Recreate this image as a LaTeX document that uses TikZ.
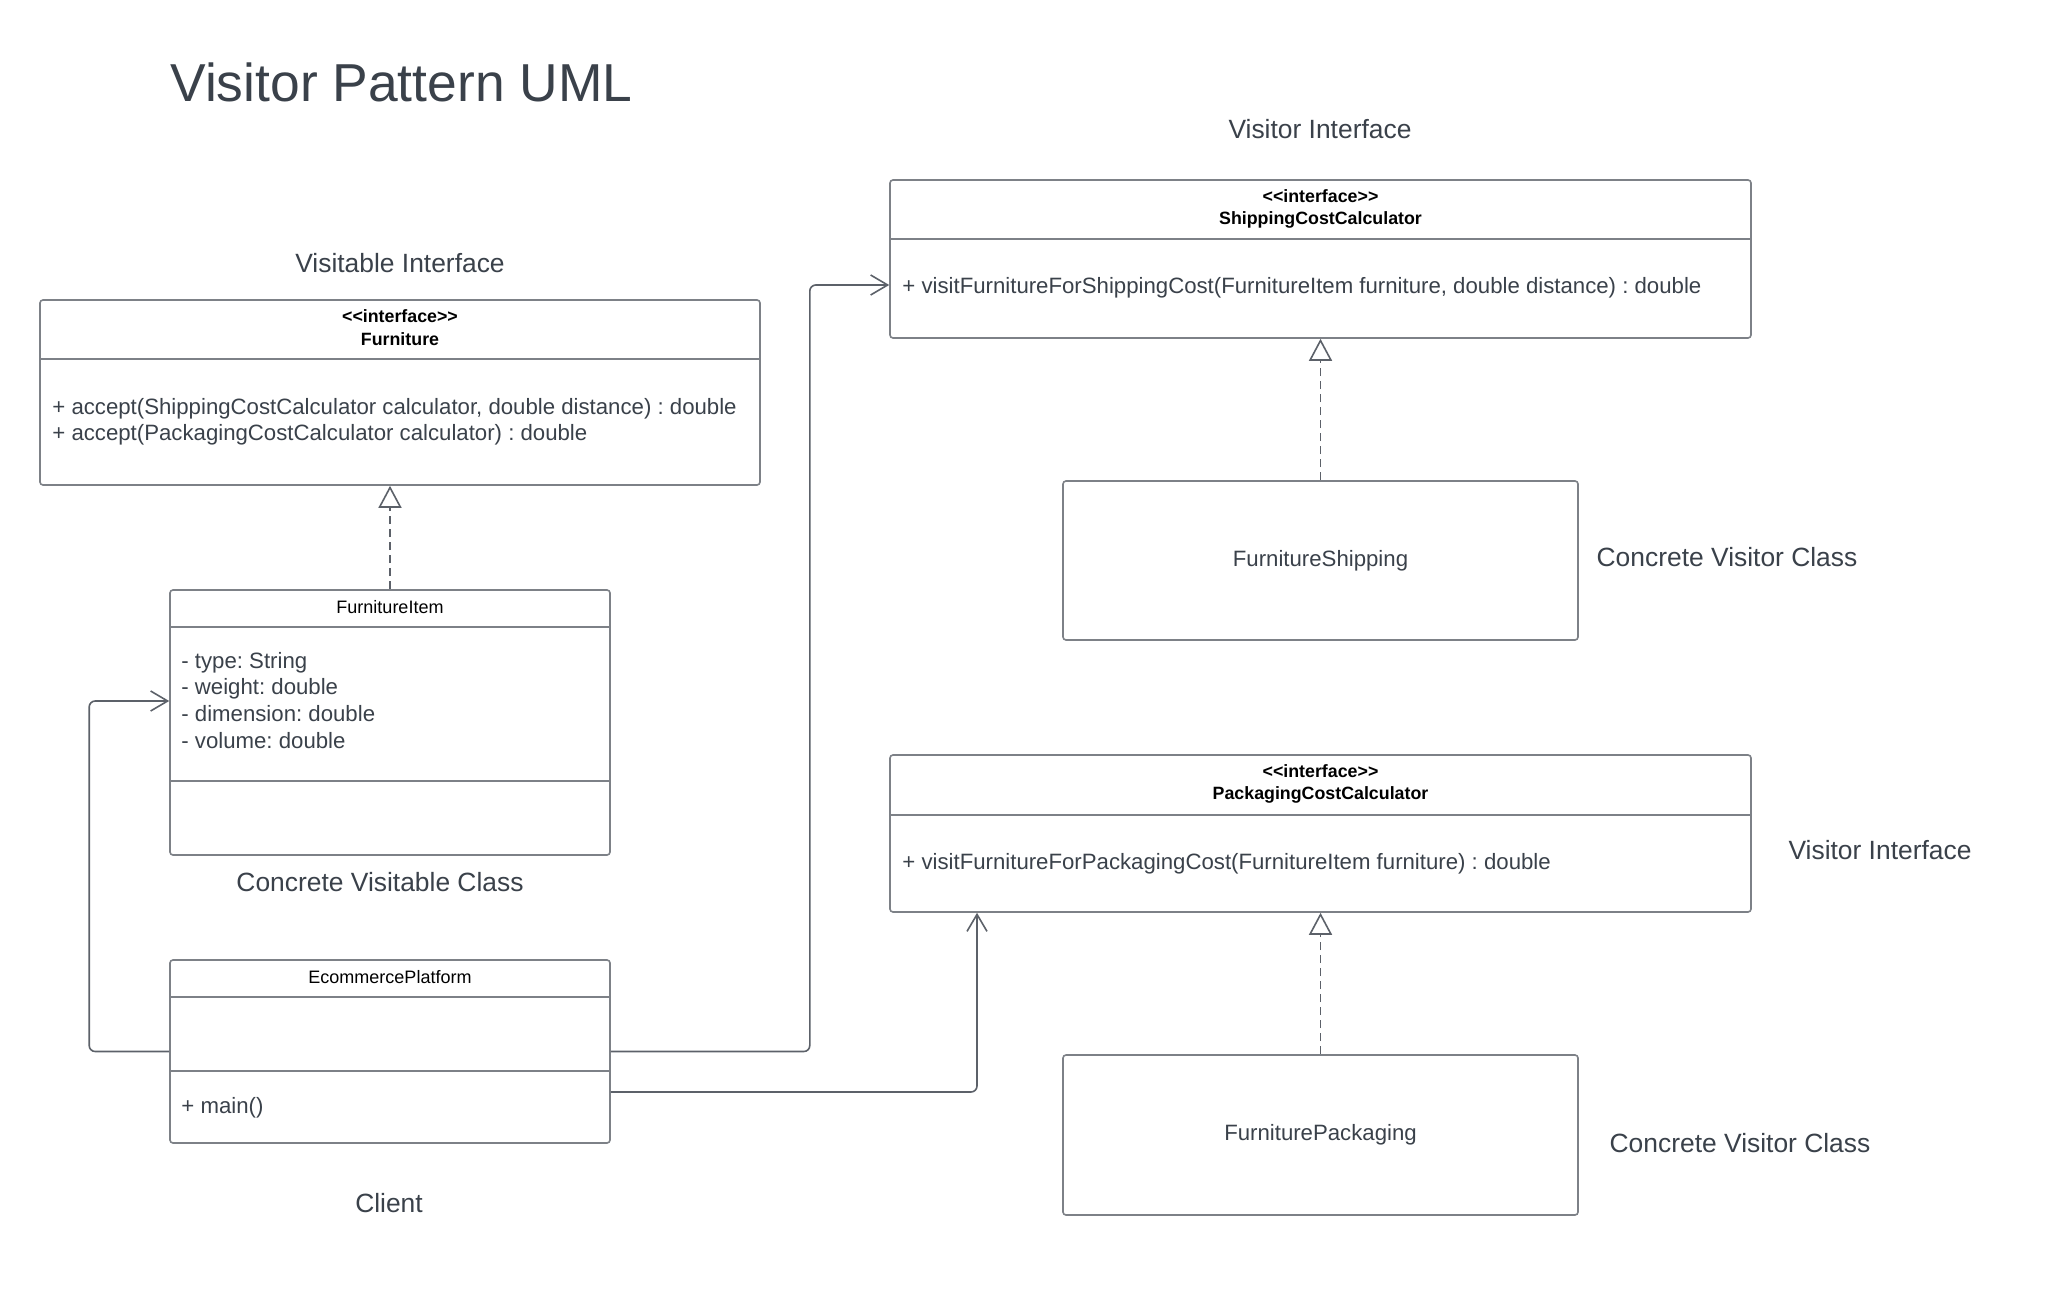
\documentclass[tikz,border=0pt]{standalone}
\usepackage{fontspec}
\setmainfont{Liberation Sans}
\usetikzlibrary{arrows.meta,calc}
\definecolor{txt}{HTML}{3A414A}
\definecolor{boxc}{HTML}{7D8187}
\definecolor{linec}{HTML}{5C6169}
\frenchspacing
\newcommand{\stereo}{{<}{<}interface{>}{>}}
\tikzset{
  box/.style={draw=boxc, line width=0.8pt, rounded corners=1.5pt, inner sep=0pt, fill=white},
  divider/.style={draw=boxc, line width=0.8pt},
  lbl/.style={font=\fontsize{13.2}{16}\selectfont, text=txt, inner sep=0pt},
  mtxt/.style={font=\fontsize{11.1}{13.3}\selectfont, text=txt, anchor=base west, inner sep=0pt},
  hdr/.style={font=\bfseries\fontsize{8.9}{10}\selectfont, text=black, inner sep=0pt},
  cname/.style={font=\fontsize{9}{11}\selectfont, text=black, inner sep=0pt},
  bigname/.style={font=\fontsize{11.1}{13.3}\selectfont, text=txt, inner sep=0pt},
  assoc/.style={draw=linec, line width=0.8pt, rounded corners=3pt, -{Straight Barb[length=8.5pt,width=10pt,line width=0.8pt]}},
  real/.style={draw=linec, line width=0.8pt, dash pattern=on 4pt off 2.5pt, -{Triangle[open,length=11pt,width=11.5pt,line width=0.8pt]}}
}
\begin{document}
\begin{tikzpicture}[x=0.5pt,y=-0.5pt]
\useasboundingbox (0,0) rectangle (2070,1294);
\fill[white] (0,0) rectangle (2070,1294);

% title
\node[font=\fontsize{26.7}{32}\selectfont, text=txt, anchor=base west, inner sep=0pt] (title) at (170,102) {Visitor Pattern UML};

% ---------- Furniture interface ----------
\node[box, minimum width=360pt, minimum height=92.5pt] (furn) at (400,392.5) {};
\draw[divider] (furn.west |- 0,359) -- (furn.east |- 0,359);
\node[hdr] (furnst) at (400,316) {\stereo};
\node[hdr] (furnnm) at (400,339) {Furniture};
\node[mtxt] (furnm1) at (52,414) {+ accept(ShippingCostCalculator calculator, double distance) : double};
\node[mtxt] (furnm2) at (52,440) {+ accept(PackagingCostCalculator calculator) : double};
\node[lbl] (lvisitable) at (400,263) {Visitable Interface};

% ---------- FurnitureItem ----------
\node[box, minimum width=220pt, minimum height=132.5pt] (fi) at (390,722.5) {};
\draw[divider] (fi.west |- 0,627) -- (fi.east |- 0,627);
\draw[divider] (fi.west |- 0,781) -- (fi.east |- 0,781);
\node[cname] (finm) at (390,607) {FurnitureItem};
\node[mtxt] (fia1) at (181,668) {- type: String};
\node[mtxt] (fia2) at (181,694.7) {- weight: double};
\node[mtxt] (fia3) at (181,721.4) {- dimension: double};
\node[mtxt] (fia4) at (181,748) {- volume: double};
\node[lbl] (lconcvisitable) at (380,882) {Concrete Visitable Class};

% ---------- EcommercePlatform ----------
\node[box, minimum width=220pt, minimum height=91.5pt] (ep) at (390,1051.5) {};
\draw[divider] (ep.west |- 0,997) -- (ep.east |- 0,997);
\draw[divider] (ep.west |- 0,1071) -- (ep.east |- 0,1071);
\node[cname] (epnm) at (390,977) {EcommercePlatform};
\node[mtxt] (epm1) at (181,1113) {+ main()};
\node[lbl] (lclient) at (389,1203) {Client};

% ---------- ShippingCostCalculator ----------
\node[box, minimum width=430.5pt, minimum height=79pt] (sc) at (1320.5,259) {};
\draw[divider] (sc.west |- 0,239) -- (sc.east |- 0,239);
\node[hdr] (scst) at (1320.5,196) {\stereo};
\node[hdr] (scnm) at (1320.5,220) {ShippingCostCalculator};
\node[mtxt] (scm1) at (902,294) {+ visitFurnitureForShippingCost(FurnitureItem furniture, double distance) : double};
\node[lbl] (lvisitor1) at (1320,129) {Visitor Interface};

% ---------- FurnitureShipping ----------
\node[box, minimum width=257.5pt, minimum height=79.5pt] (fs) at (1320.5,560.5) {};
\node[bigname] (fsnm) at (1320.5,561) {FurnitureShipping};
\node[lbl] (lconcvisitor1) at (1727,557) {Concrete Visitor Class};

% ---------- PackagingCostCalculator ----------
\node[box, minimum width=430.5pt, minimum height=78.5pt] (pc) at (1320.5,833.5) {};
\draw[divider] (pc.west |- 0,815) -- (pc.east |- 0,815);
\node[hdr] (pcst) at (1320.5,771) {\stereo};
\node[hdr] (pcnm) at (1320.5,795) {PackagingCostCalculator};
\node[mtxt] (pcm1) at (902,869) {+ visitFurnitureForPackagingCost(FurnitureItem furniture) : double};
\node[lbl] (lvisitor2) at (1880,850) {Visitor Interface};

% ---------- FurniturePackaging ----------
\node[box, minimum width=257.5pt, minimum height=80pt] (fp) at (1320.5,1135) {};
\node[bigname] (fpnm) at (1320.5,1135) {FurniturePackaging};
\node[lbl] (lconcvisitor2) at (1740,1143) {Concrete Visitor Class};

% ---------- connectors ----------
\draw[real] (fi.north) -- (furn.south -| fi.north);
\draw[real] (fs.north) -- (sc.south);
\draw[real] (fp.north) -- (pc.south);

\draw[assoc] (ep.west) -- ++(-80,0) |- ([yshift=10.75pt]fi.west);
\draw[assoc] (ep.east) -- ++(199,0) |- ([yshift=-13pt]sc.west);
\draw[assoc] ([yshift=-20.25pt]ep.east) -| ([xshift=-171.75pt]pc.south);
\end{tikzpicture}
\end{document}
